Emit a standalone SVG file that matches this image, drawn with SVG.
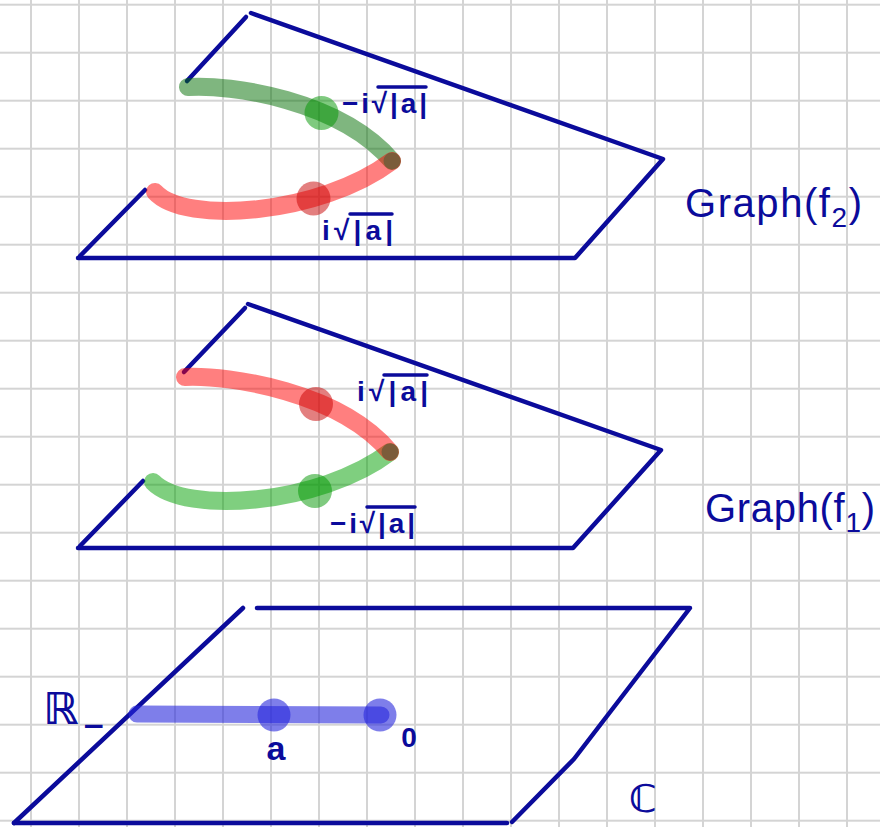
<svg xmlns="http://www.w3.org/2000/svg" width="880" height="827" viewBox="0 0 880 827">
<defs>
<pattern id="gridpat" x="7" y="-19.3" width="48" height="48" patternUnits="userSpaceOnUse">
<path d="M24,0 V48 M0,24 H48" stroke="#d4d4d4" stroke-width="2" fill="none"/>
</pattern>
</defs>
<style>
.edge{fill:none;stroke:#0b0b9b;stroke-width:4.5;stroke-linecap:round;stroke-linejoin:round}
.red{fill:none;stroke:rgba(255,0,0,0.5);stroke-width:18;stroke-linecap:round}
.green2{fill:none;stroke:rgba(0,110,0,0.5);stroke-width:18;stroke-linecap:round}
.green1{fill:none;stroke:rgba(0,160,0,0.5);stroke-width:18;stroke-linecap:round}
.rdot{fill:rgba(200,0,0,0.5)}
.gdot{fill:rgba(0,150,0,0.5)}
.vert{fill:#7b5c3a}
.bdot{fill:rgba(40,40,220,0.6)}
.lbl{fill:#0b0b9b;font-family:"Liberation Sans",Arial,sans-serif;font-weight:bold}
.hand{fill:#0b0b9b;font-family:"Liberation Sans",Arial,sans-serif;font-weight:normal}
.vin{stroke:#0b0b9b;stroke-width:3.5;stroke-linecap:round}
</style>
<rect width="880" height="827" fill="#ffffff"/>
<rect id="grid" width="880" height="827" fill="url(#gridpat)"/>

<g id="plane-f2">
<polyline class="edge" points="187,81 246,17"/>
<polyline class="edge" points="251,13 663,159 575,258 78,258"/>
<polyline class="edge" points="80,256 145,190"/>
</g>
<g id="plane-f1">
<polyline class="edge" points="184,372 245,308"/>
<polyline class="edge" points="248,304 661,450 573,548 78,548"/>
<polyline class="edge" points="80,546 143,481"/>
</g>
<g id="plane-C">
<polyline class="edge" points="14,823 243,608"/>
<polyline class="edge" points="257,608 690,608 574,759 512,822"/>
<polyline class="edge" points="14,823 507,823"/>
</g>

<g id="connectors">
<g id="curves-f2">
<path class="green2" d="M188,87 C230,84 340,100 392,161"/>
<path class="red" d="M155,192 C185,225 320,215 392,161"/>
<circle class="gdot" cx="321.5" cy="113" r="17"/>
<circle class="rdot" cx="313.5" cy="198.5" r="17"/>
<circle class="vert" cx="392" cy="161" r="8.5"/>
</g>
<g id="curves-f1">
<path class="green1" d="M153,482 C185,515 320,505 390,452"/>
<path class="red" d="M185,377 C230,375 340,392 390,452"/>
<circle class="rdot" cx="316" cy="404" r="17"/>
<circle class="gdot" cx="315" cy="491" r="17"/>
<circle class="vert" cx="390" cy="452" r="8.5"/>
</g>
<g id="segment-R">
<line x1="137" y1="714" x2="381" y2="715" stroke="rgba(40,40,220,0.6)" stroke-width="17" stroke-linecap="round"/>
<circle class="bdot" cx="274" cy="715" r="16.5"/>
<circle class="bdot" cx="380" cy="715" r="16.5"/>
</g>
</g>

<g id="labels">
<text class="lbl" x="342" y="113" font-size="28" textLength="85" lengthAdjust="spacing">−i√|a|</text>
<line class="vin" x1="378" y1="87" x2="426" y2="87"/>
<text class="lbl" x="322" y="240" font-size="28" textLength="71" lengthAdjust="spacing">i√|a|</text>
<line class="vin" x1="350" y1="214" x2="392" y2="214"/>
<text class="lbl" x="357" y="401" font-size="28" textLength="71" lengthAdjust="spacing">i√|a|</text>
<line class="vin" x1="384" y1="375" x2="427" y2="375"/>
<text class="lbl" x="330" y="533" font-size="28" textLength="85" lengthAdjust="spacing">−i√|a|</text>
<line class="vin" x1="367" y1="507" x2="415" y2="507"/>
<text class="hand" x="685" y="217" font-size="40" textLength="177" lengthAdjust="spacing">Graph(f<tspan font-size="28" dy="10">2</tspan><tspan dy="-10">)</tspan></text>
<text class="hand" x="705" y="522" font-size="40" textLength="170" lengthAdjust="spacing">Graph(f<tspan font-size="28" dy="10">1</tspan><tspan dy="-10">)</tspan></text>
<text class="hand" x="43" y="724" font-size="44" style="font-family:'DejaVu Sans',sans-serif;font-weight:bold">ℝ<tspan x="82" y="735" font-size="28">−</tspan></text>
<text class="lbl" x="276" y="760" font-size="34" text-anchor="middle">a</text>
<text class="lbl" x="409" y="747" font-size="28" text-anchor="middle">0</text>
<text class="hand" x="643" y="812" font-size="38" text-anchor="middle" style="font-family:'DejaVu Sans',sans-serif;font-weight:bold">ℂ</text>
</g>
</svg>
